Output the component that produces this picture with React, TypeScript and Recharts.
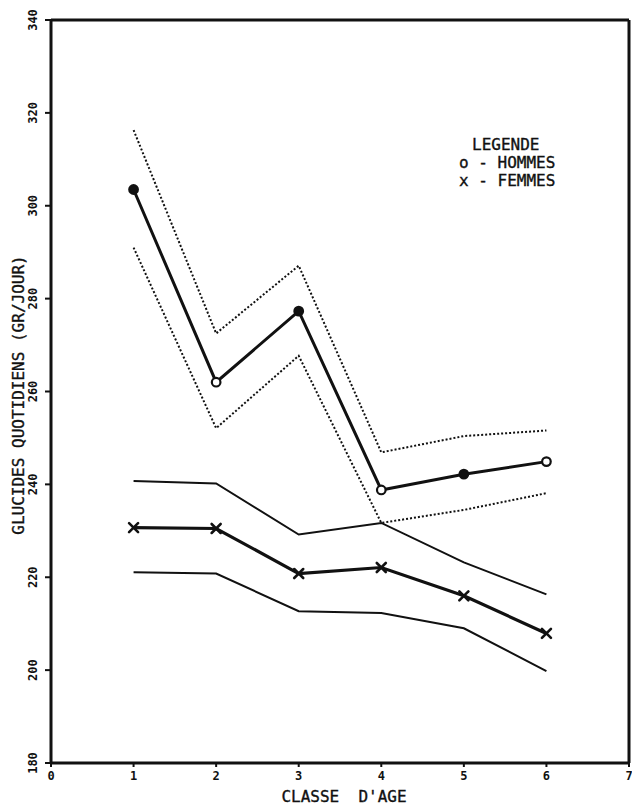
import React from "react";
import { LineChart, Line, XAxis, YAxis, ReferenceLine, Label } from "recharts";

// Classes d'âge (axe horizontal)
const classes = [1, 2, 3, 4, 5, 6];

// Glucides quotidiens (gr/jour) — hommes : moyenne et bornes de l'intervalle
const hommesMoyenne = [303.5, 262.0, 277.3, 238.8, 242.2, 244.9];
const hommesHaut = [316.3, 272.5, 287.1, 246.9, 250.4, 251.6];
const hommesBas = [291.0, 252.1, 267.7, 231.7, 234.5, 238.1];

// Femmes : moyenne et bornes de l'intervalle
const femmesMoyenne = [230.7, 230.5, 220.8, 222.1, 216.0, 207.9];
const femmesHaut = [240.7, 240.2, 229.2, 231.7, 223.2, 216.3];
const femmesBas = [221.1, 220.8, 212.7, 212.3, 209.0, 199.8];

// Graduations des axes
const xTicks = [0, 1, 2, 3, 4, 5, 6, 7];
const yTicks = [180, 200, 220, 240, 260, 280, 300, 320, 340];

// Textes
const titreX = "CLASSE  D'AGE";
const titreY = "GLUCIDES QUOTIDIENS (GR/JOUR)";
const legende = ["LEGENDE", "o - HOMMES", "x - FEMMES"];

const data = classes.map((c, i) => ({
  classe: c,
  hMoy: hommesMoyenne[i],
  hHaut: hommesHaut[i],
  hBas: hommesBas[i],
  fMoy: femmesMoyenne[i],
  fHaut: femmesHaut[i],
  fBas: femmesBas[i],
}));

// police de traceur : chasse fixe, trait régulier
const MONO = "'DejaVu Sans Mono', 'Liberation Mono', monospace";
const INK = "#111";

const CircleDot = (props: any) => {
  const { cx, cy, index } = props;
  if (cx == null || cy == null) return null;
  return (
    <circle
      key={`c-${index}`}
      cx={cx}
      cy={cy}
      r={4.3}
      fill={index % 2 === 0 ? INK : "#fff"}
      stroke={INK}
      strokeWidth={2.2}
    />
  );
};

const CrossDot = (props: any) => {
  const { cx, cy, index } = props;
  if (cx == null || cy == null) return null;
  const s = 4.5;
  return (
    <g key={`x-${index}`} stroke={INK} strokeWidth={2.6} strokeLinecap="round">
      <line x1={cx - s} y1={cy - s} x2={cx + s} y2={cy + s} />
      <line x1={cx - s} y1={cy + s} x2={cx + s} y2={cy - s} />
    </g>
  );
};

const YTick = (props: any) => {
  const { x, y, payload } = props;
  return (
    <text
      transform={`translate(${x - 6},${y}) rotate(-90)`}
      textAnchor="middle"
      fontFamily={MONO}
      fontWeight="bold"
      fontSize={12}
      fill={INK}
    >
      {payload.value}
    </text>
  );
};

const XTick = (props: any) => {
  const { x, y, payload } = props;
  return (
    <text
      x={x}
      y={y + 11}
      textAnchor="middle"
      fontFamily={MONO}
      fontWeight="bold"
      fontSize={12}
      fill={INK}
    >
      {payload.value}
    </text>
  );
};

const titleStyle = {
  fontFamily: MONO,
  fontSize: 16,
  fill: INK,
  stroke: INK,
  strokeWidth: 0.35,
};

export default function App() {
  return (
    <div
      style={{
        position: "absolute",
        left: 0,
        top: 0,
        width: 632,
        height: 806,
        background: "#fff",
      }}
    >
      <LineChart
        width={632}
        height={806}
        data={data}
        margin={{ top: 20, right: 3, bottom: 0, left: 0 }}
      >
        <XAxis
          dataKey="classe"
          type="number"
          domain={[0, 7]}
          ticks={xTicks}
          height={43}
          axisLine={{ stroke: INK, strokeWidth: 3 }}
          tickLine={{ stroke: INK, strokeWidth: 2 }}
          tickSize={4}
          tick={<XTick />}
          interval={0}
        >
          <Label
            content={() => (
              <text
                x={344}
                y={802}
                textAnchor="middle"
                xmlSpace="preserve"
                style={titleStyle}
              >
                {titreX}
              </text>
            )}
          />
        </XAxis>
        <YAxis
          type="number"
          domain={[180, 340]}
          ticks={yTicks}
          width={51}
          axisLine={{ stroke: INK, strokeWidth: 3 }}
          tickLine={{ stroke: INK, strokeWidth: 2 }}
          tickSize={6}
          tick={<YTick />}
          interval={0}
        >
          <Label
            content={() => (
              <text
                transform="translate(24,395) rotate(-90)"
                textAnchor="middle"
                style={titleStyle}
              >
                {titreY}
              </text>
            )}
          />
        </YAxis>

        {/* cadre supérieur et droit, avec la légende */}
        <ReferenceLine x={7} stroke={INK} strokeWidth={3} ifOverflow="visible" />
        <ReferenceLine y={340} stroke={INK} strokeWidth={3} ifOverflow="visible">
          <Label
            content={() => (
              <g style={titleStyle}>
                <text x={472} y={150}>{legende[0]}</text>
                <text x={459} y={168}>{legende[1]}</text>
                <text x={459} y={186}>{legende[2]}</text>
              </g>
            )}
          />
        </ReferenceLine>

        {/* Hommes : intervalle en pointillés */}
        <Line
          dataKey="hHaut"
          stroke={INK}
          strokeWidth={2}
          strokeDasharray="2 2"
          dot={false}
          isAnimationActive={false}
        />
        <Line
          dataKey="hBas"
          stroke={INK}
          strokeWidth={2}
          strokeDasharray="2 2"
          dot={false}
          isAnimationActive={false}
        />
        <Line
          dataKey="hMoy"
          stroke={INK}
          strokeWidth={3}
          dot={<CircleDot />}
          isAnimationActive={false}
        />

        {/* Femmes : intervalle en traits pleins */}
        <Line
          dataKey="fHaut"
          stroke={INK}
          strokeWidth={2}
          dot={false}
          isAnimationActive={false}
        />
        <Line
          dataKey="fBas"
          stroke={INK}
          strokeWidth={2}
          dot={false}
          isAnimationActive={false}
        />
        <Line
          dataKey="fMoy"
          stroke={INK}
          strokeWidth={3.2}
          dot={<CrossDot />}
          isAnimationActive={false}
        />
      </LineChart>
    </div>
  );
}
